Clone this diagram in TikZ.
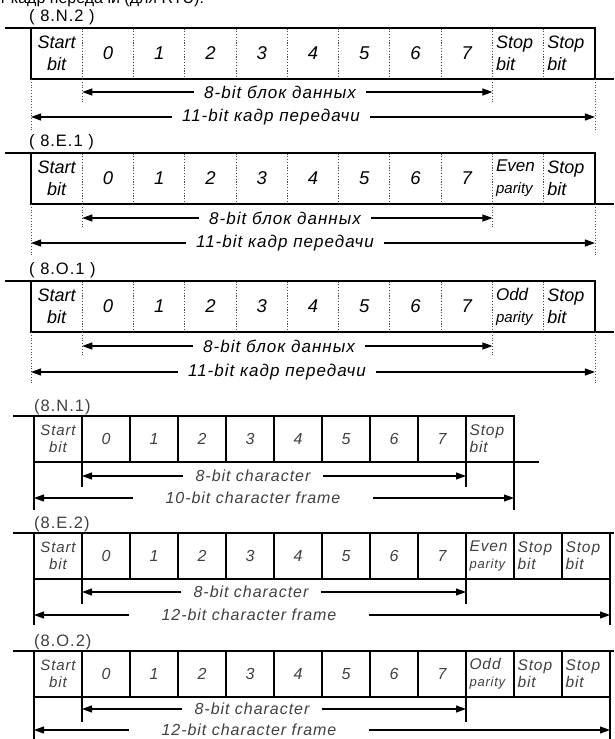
\documentclass[tikz,border=0pt]{standalone}
\usepackage{fontspec}
\setmainfont{Liberation Sans}
\newfontfamily\trackfont{Liberation Sans}[LetterSpace=6]
\newfontfamily\lighttrack{Liberation Sans}[LetterSpace=6]
\newfontfamily\tagfont{Liberation Sans}[LetterSpace=6]
\usetikzlibrary{arrows.meta,positioning,calc}

\begin{document}
\begin{tikzpicture}[x=1pt, y=1pt, >={Triangle[length=10pt,width=7pt]},
      ucell/.style={draw=black!70, dotted, line width=0.8pt, minimum width=51.27pt,
                    minimum height=51pt, inner sep=0pt, outer sep=0pt,
                    font=\itshape\fontsize{18.5}{22}\selectfont},
      uword/.style={ucell, text width=44pt, align=left,
                    font=\itshape\fontsize{18}{22}\selectfont},
      ustart/.style={ucell, align=center,
                     font=\itshape\fontsize{18}{22}\selectfont},
      lcell/.style={draw, line width=1.6pt, minimum width=48pt, minimum height=46pt,
                    inner sep=0pt, outer sep=0pt, text=black!75,
                    font=\lighttrack\itshape\fontsize{16}{17}\selectfont},
      lword/.style={lcell, text width=41pt, align=left,
                    font=\lighttrack\itshape\fontsize{15.5}{17}\selectfont},
      lstart/.style={lcell, align=center,
                     font=\lighttrack\itshape\fontsize{15}{17}\selectfont},
      frameline/.style={line width=2pt},
      extline/.style={draw=black!70, dotted, line width=0.8pt},
      lext/.style={line width=1.6pt},
      arr/.style={->, line width=1.1pt},
      lbl/.style={inner xsep=10pt, inner ysep=0pt,
                  font=\trackfont\itshape\fontsize{17}{19}\selectfont},
      llbl/.style={lbl, inner xsep=12pt, text=black!75,
                   font=\trackfont\itshape\fontsize{16}{18}\selectfont},
      tag/.style={anchor=base west, inner sep=0pt,
                  font=\tagfont\fontsize{16.5}{18}\selectfont},
      ltag/.style={tag, text=black!75, font=\lighttrack\fontsize{16.5}{18}\selectfont}
    ]
    \useasboundingbox (0,0) rectangle (614,-739);

    % caption line, cut off by the page edge
    \node[anchor=base west, inner sep=0pt, font=\fontsize{16}{18}\selectfont]
      (cap) at (-1,-3) {т кадр передачи (для RTU):};

    % ---- 8.N.2 ----
    \node[tag] (tA) at (29,-21) {( 8.N.2 )};
    \node[ustart, anchor=north west] (a0) at (31,-28) {Start\\bit};
    \foreach \b [count=\i, remember=\i as \p (initially 0)] in {0,...,7}
      \node[ucell, right=0pt of a\p] (a\i) {\b};
    \node[uword, right=0pt of a8] (a9) {Stop\\bit};
    \node[uword, right=0pt of a9] (a10) {Stop\\bit};
    \draw[frameline] ([xshift=-26pt]a0.north west) -- (a10.north east) -- (a10.south east);
    \draw[frameline] (a0.north west) -- (a0.south west) -- ([xshift=19pt]a10.south east);
    \coordinate (a0d) at ([yshift=-51pt]a0.south west);
    \coordinate (a1d) at ([yshift=-25pt]a1.south west);
    \coordinate (a9d) at ([yshift=-25pt]a9.south west);
    \coordinate (a10d) at ([yshift=-51pt]a10.south east);
    \draw[extline] (a0.south west) -- (a0d);
    \draw[extline] (a1.south west) -- (a1d);
    \draw[extline] (a9.south west) -- (a9d);
    \draw[extline] (a10.south east) -- (a10d);
    \node[lbl] (aData) at (280,-92) {8-bit блок данных};
    \node[lbl] (aFrame) at (271,-117) {11-bit кадр передачи};
    \draw[arr] (aData.west) -- (aData.west -| a1d);
    \draw[arr] (aData.east) -- (aData.east -| a9d);
    \draw[arr] (aFrame.west) -- (aFrame.west -| a0d);
    \draw[arr] (aFrame.east) -- (aFrame.east -| a10d);

    % ---- 8.E.1 ----
    \node[tag] (tB) at (29,-146) {( 8.E.1 )};
    \node[ustart, anchor=north west] (b0) at (31,-153) {Start\\bit};
    \foreach \b [count=\i, remember=\i as \p (initially 0)] in {0,...,7}
      \node[ucell, right=0pt of b\p] (b\i) {\b};
    \node[uword, right=0pt of b8] (b9) {{\fontsize{17}{21}\selectfont Even}\\{\fontsize{15}{17}\selectfont parity}};
    \node[uword, right=0pt of b9] (b10) {Stop\\bit};
    \draw[frameline] ([xshift=-26pt]b0.north west) -- (b10.north east) -- (b10.south east);
    \draw[frameline] (b0.north west) -- (b0.south west) -- ([xshift=19pt]b10.south east);
    \coordinate (b0d) at ([yshift=-51pt]b0.south west);
    \coordinate (b1d) at ([yshift=-25pt]b1.south west);
    \coordinate (b9d) at ([yshift=-25pt]b9.south west);
    \coordinate (b10d) at ([yshift=-51pt]b10.south east);
    \draw[extline] (b0.south west) -- (b0d);
    \draw[extline] (b1.south west) -- (b1d);
    \draw[extline] (b9.south west) -- (b9d);
    \draw[extline] (b10.south east) -- (b10d);
    \node[lbl] (bData) at (285,-218) {8-bit блок данных};
    \node[lbl] (bFrame) at (285,-243) {11-bit кадр передачи};
    \draw[arr] (bData.west) -- (bData.west -| b1d);
    \draw[arr] (bData.east) -- (bData.east -| b9d);
    \draw[arr] (bFrame.west) -- (bFrame.west -| b0d);
    \draw[arr] (bFrame.east) -- (bFrame.east -| b10d);

    % ---- 8.O.1 ----
    \node[tag] (tC) at (29,-274) {( 8.O.1 )};
    \node[ustart, anchor=north west] (c0) at (31,-281) {Start\\bit};
    \foreach \b [count=\i, remember=\i as \p (initially 0)] in {0,...,7}
      \node[ucell, right=0pt of c\p] (c\i) {\b};
    \node[uword, right=0pt of c8] (c9) {{\fontsize{17}{21}\selectfont Odd}\\{\fontsize{15}{17}\selectfont parity}};
    \node[uword, right=0pt of c9] (c10) {Stop\\bit};
    \draw[frameline] ([xshift=-26pt]c0.north west) -- (c10.north east) -- (c10.south east);
    \draw[frameline] (c0.north west) -- (c0.south west) -- ([xshift=19pt]c10.south east);
    \coordinate (c0d) at ([yshift=-51pt]c0.south west);
    \coordinate (c1d) at ([yshift=-25pt]c1.south west);
    \coordinate (c9d) at ([yshift=-25pt]c9.south west);
    \coordinate (c10d) at ([yshift=-51pt]c10.south east);
    \draw[extline] (c0.south west) -- (c0d);
    \draw[extline] (c1.south west) -- (c1d);
    \draw[extline] (c9.south west) -- (c9d);
    \draw[extline] (c10.south east) -- (c10d);
    \node[lbl] (cData) at (279,-346) {8-bit блок данных};
    \node[lbl] (cFrame) at (277,-372) {11-bit кадр передачи};
    \draw[arr] (cData.west) -- (cData.west -| c1d);
    \draw[arr] (cData.east) -- (cData.east -| c9d);
    \draw[arr] (cFrame.west) -- (cFrame.west -| c0d);
    \draw[arr] (cFrame.east) -- (cFrame.east -| c10d);

    % ---- 8.N.1 ----
    \node[ltag] (tD) at (34,-411) {(8.N.1)};
    \node[lstart, anchor=north west] (d0) at (34,-416) {Start\\bit};
    \foreach \b [count=\i, remember=\i as \p (initially 0)] in {0,...,7}
      \node[lcell, right=0pt of d\p] (d\i) {\b};
    \node[lword, right=0pt of d8] (d9) {Stop\\bit};
    \draw[lext] ([xshift=-21pt]d0.north west) -- (d0.north west);
    \draw[lext] (d9.south east) -- ([xshift=25pt]d9.south east);
    \coordinate (d0d) at ([yshift=-48pt]d0.south west);
    \coordinate (d1d) at ([yshift=-25pt]d1.south west);
    \coordinate (d9d) at ([yshift=-25pt]d9.south west);
    \coordinate (d10d) at ([yshift=-48pt]d9.south east);
    \draw[lext] (d0.south west) -- (d0d);
    \draw[lext] (d1.south west) -- (d1d);
    \draw[lext] (d9.south west) -- (d9d);
    \draw[lext] (d9.south east) -- (d10d);
    \node[llbl] (dData) at (253,-476) {8-bit character};
    \node[llbl, inner xsep=32pt] (dFrame) at (253,-498) {10-bit character frame};
    \draw[arr] (dData.west) -- (dData.west -| d1d);
    \draw[arr] (dData.east) -- (dData.east -| d9d);
    \draw[arr] (dFrame.west) -- (dFrame.west -| d0d);
    \draw[arr] (dFrame.east) -- (dFrame.east -| d10d);

    % ---- 8.E.2 ----
    \node[ltag] (tE) at (34,-528) {(8.E.2)};
    \node[lstart, anchor=north west] (e0) at (34,-533) {Start\\bit};
    \foreach \b [count=\i, remember=\i as \p (initially 0)] in {0,...,7}
      \node[lcell, right=0pt of e\p] (e\i) {\b};
    \node[lword, right=0pt of e8] (e9) {Even\\{\fontsize{13}{13}\selectfont parity}};
    \node[lword, right=0pt of e9] (e10) {Stop\\bit};
    \node[lword, right=0pt of e10] (e11) {Stop\\bit};
    \draw[lext] ([xshift=-21pt]e0.north west) -- ([xshift=4pt]e11.north east);
    \coordinate (e0d) at ([yshift=-46pt]e0.south west);
    \coordinate (e1d) at ([yshift=-25pt]e1.south west);
    \coordinate (e9d) at ([yshift=-25pt]e9.south west);
    \coordinate (e12d) at ([yshift=-46pt]e11.south east);
    \draw[lext] (e0.south west) -- (e0d);
    \draw[lext] (e1.south west) -- (e1d);
    \draw[lext] (e9.south west) -- (e9d);
    \draw[lext] (e11.south east) -- (e12d);
    \node[llbl] (eData) at (251,-592) {8-bit character};
    \node[llbl, inner xsep=32pt] (eFrame) at (249,-615) {12-bit character frame};
    \draw[arr] (eData.west) -- (eData.west -| e1d);
    \draw[arr] (eData.east) -- (eData.east -| e9d);
    \draw[arr] (eFrame.west) -- (eFrame.west -| e0d);
    \draw[arr] (eFrame.east) -- (eFrame.east -| e12d);

    % ---- 8.O.2 ----
    \node[ltag] (tF) at (34,-646) {(8.O.2)};
    \node[lstart, anchor=north west] (f0) at (34,-651) {Start\\bit};
    \foreach \b [count=\i, remember=\i as \p (initially 0)] in {0,...,7}
      \node[lcell, right=0pt of f\p] (f\i) {\b};
    \node[lword, right=0pt of f8] (f9) {Odd\\{\fontsize{13}{13}\selectfont parity}};
    \node[lword, right=0pt of f9] (f10) {Stop\\bit};
    \node[lword, right=0pt of f10] (f11) {Stop\\bit};
    \draw[lext] ([xshift=-21pt]f0.north west) -- ([xshift=4pt]f11.north east);
    \coordinate (f0d) at ([yshift=-46pt]f0.south west);
    \coordinate (f1d) at ([yshift=-25pt]f1.south west);
    \coordinate (f9d) at ([yshift=-25pt]f9.south west);
    \coordinate (f12d) at ([yshift=-46pt]f11.south east);
    \draw[lext] (f0.south west) -- (f0d);
    \draw[lext] (f1.south west) -- (f1d);
    \draw[lext] (f9.south west) -- (f9d);
    \draw[lext] (f11.south east) -- (f12d);
    \node[llbl] (fData) at (252,-709) {8-bit character};
    \node[llbl, inner xsep=32pt] (fFrame) at (249,-730) {12-bit character frame};
    \draw[arr] (fData.west) -- (fData.west -| f1d);
    \draw[arr] (fData.east) -- (fData.east -| f9d);
    \draw[arr] (fFrame.west) -- (fFrame.west -| f0d);
    \draw[arr] (fFrame.east) -- (fFrame.east -| f12d);
  \end{tikzpicture}
\end{document}
